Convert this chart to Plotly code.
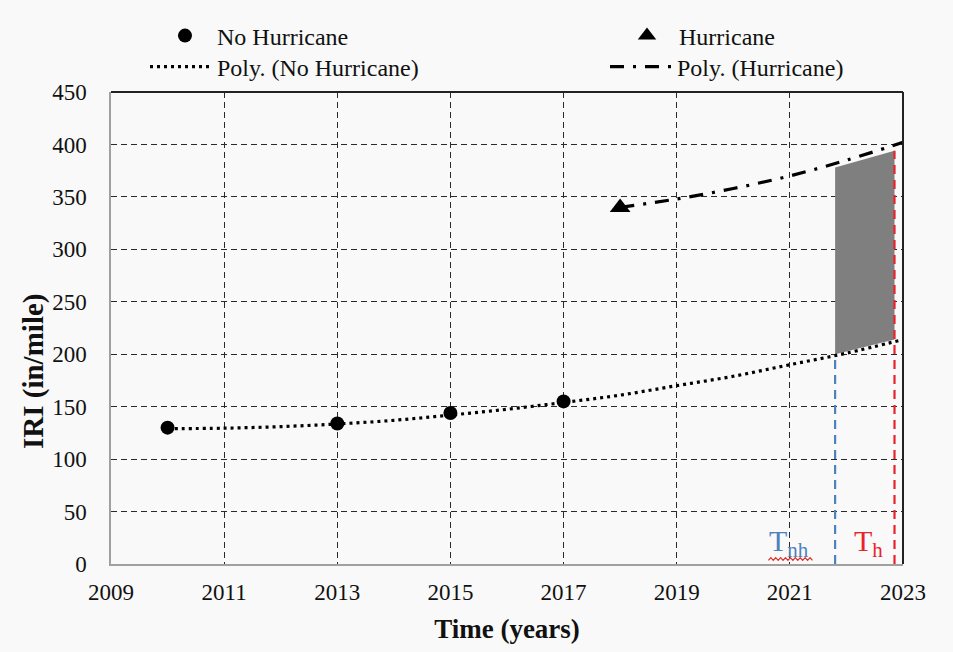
import plotly.graph_objects as go

# Observed IRI values
years_nh = [2010, 2013, 2015, 2017]
iri_nh = [130, 134, 144, 155]
years_h = [2018]
iri_h = [340]

# Polynomial trend curves
trend_nh_years = [2010, 2011, 2012, 2013, 2014, 2015, 2016, 2017, 2018, 2019, 2020, 2021, 2022, 2023]
trend_nh_vals = [129, 129.5, 131, 133.5, 137, 142, 147.5, 154, 161, 170, 179, 190, 201, 214]
trend_h_years = [2018, 2019, 2020, 2021, 2022, 2023]
trend_h_vals = [340, 348, 358, 370, 385, 402]

# Service-life thresholds and the shaded gap between them
t_nh = 2021.8
t_h = 2022.85
t_nh_iri = 200
t_h_iri = 394
gap_x = [2021.8, 2022.85, 2022.85, 2021.8, 2021.8]
gap_y = [378, 394, 214, 200, 378]

x_ticks = [2009, 2011, 2013, 2015, 2017, 2019, 2021, 2023]
y_ticks = [0, 50, 100, 150, 200, 250, 300, 350, 400, 450]

SERIF = "Liberation Serif, Times New Roman, serif"
BG = "#f9f9f9"
BLUE = "#4f81bd"
RED = "#e8232b"
INK = "#111111"


def px_x(p):
    return (p - 111) / 792


def px_y(p):
    return (564 - p) / 472


fig = go.Figure()

fig.add_trace(go.Scatter(
    x=gap_x, y=gap_y, mode="lines", fill="toself", fillcolor="#7f7f7f",
    line=dict(width=0), hoverinfo="skip", showlegend=False))

fig.add_trace(go.Scatter(
    x=[t_nh, t_nh], y=[0, t_nh_iri], mode="lines",
    line=dict(color=BLUE, width=2.2, dash="9px,6px"),
    showlegend=False, hoverinfo="skip"))
fig.add_trace(go.Scatter(
    x=[t_h, t_h], y=[0, t_h_iri], mode="lines",
    line=dict(color=RED, width=2.2, dash="9px,6px"),
    showlegend=False, hoverinfo="skip"))

fig.add_trace(go.Scatter(
    x=trend_nh_years, y=trend_nh_vals, mode="lines", line_shape="spline",
    name="Poly. (No Hurricane)", legend="legend3",
    line=dict(color="black", width=3.2, dash="3px,4px")))
fig.add_trace(go.Scatter(
    x=trend_h_years, y=trend_h_vals, mode="lines", line_shape="spline",
    name="Poly. (Hurricane)", legend="legend4",
    line=dict(color="black", width=3.2, dash="14px,9px,3px,9px")))

fig.add_trace(go.Scatter(
    x=years_nh, y=iri_nh, mode="markers", name="No Hurricane", legend="legend",
    marker=dict(symbol="circle", size=14, color="black")))
fig.add_trace(go.Scatter(
    x=years_h, y=iri_h, mode="markers", name="Hurricane", legend="legend2",
    marker=dict(symbol="triangle-up", size=18, color="black")))

grid = dict(showgrid=True, gridcolor="#2a2a2a", gridwidth=1.3, griddash="6px,4px")

fig.update_xaxes(
    range=[2009, 2023], tickvals=x_ticks, ticktext=[str(v) for v in x_ticks],
    showline=True, linecolor="#a0a0a0", linewidth=1.5, ticks="",
    ticklabelstandoff=7,
    tickfont=dict(family=SERIF, size=23, color=INK),
    title=dict(text="<b>Time (years)</b>", font=dict(family=SERIF, size=27, color=INK), standoff=15),
    zeroline=False, **grid)
fig.update_yaxes(
    range=[0, 450], tickvals=y_ticks,
    showline=True, linecolor="#a0a0a0", linewidth=1.5, ticks="",
    ticklabelstandoff=18,
    tickfont=dict(family=SERIF, size=23, color=INK),
    zeroline=False, **grid)

# y-axis title, placed beside the lower half of the tick labels
fig.add_annotation(xref="paper", yref="paper", x=px_x(33), y=px_y(372),
                   text="<b>IRI (in/mile)</b>", textangle=-90, showarrow=False,
                   xanchor="center", yanchor="middle",
                   font=dict(family=SERIF, size=29, color=INK))

# top and right frame lines
fig.add_shape(type="line", xref="paper", yref="paper", x0=0, x1=1, y0=1, y1=1,
              line=dict(color="#222222", width=2))
fig.add_shape(type="line", xref="paper", yref="paper", x0=1, x1=1, y0=0, y1=1,
              line=dict(color="#222222", width=2))

fig.add_annotation(x=2020.6, y=0, yref="y", text="T<sub>nh</sub>", showarrow=False,
                   xanchor="left", yanchor="bottom", yshift=0,
                   font=dict(family=SERIF, size=30, color=BLUE))
fig.add_annotation(x=2022.1, y=0, yref="y", text="T<sub>h</sub>", showarrow=False,
                   xanchor="left", yanchor="bottom", yshift=0,
                   font=dict(family=SERIF, size=30, color=RED))

# wavy spell-check underline beneath the "nh" subscript
wx0, wx1, wy, amp, n = 2020.62, 2021.4, 4.8, 1.3, 18
pts = []
for i in range(n + 1):
    px = wx0 + (wx1 - wx0) * i / n
    py = wy + (amp if i % 2 else -amp)
    pts.append(f"{px:.4f},{py:.3f}")
fig.add_shape(type="path", xref="x", yref="y", path="M" + " L".join(pts),
              line=dict(color="#e0302a", width=1.2))

legend_font = dict(family=SERIF, size=24, color=INK)
common = dict(orientation="h", xanchor="left", yanchor="middle", valign="middle",
              font=legend_font, bgcolor="rgba(0,0,0,0)")

fig.update_layout(
    width=953, height=652,
    margin=dict(l=111, r=50, t=92, b=88, autoexpand=False),
    paper_bgcolor=BG, plot_bgcolor=BG,
    legend=dict(x=px_x(153), y=px_y(36), itemwidth=54, **common),
    legend2=dict(x=px_x(615), y=px_y(36), itemwidth=54, **common),
    legend3=dict(x=px_x(145), y=px_y(67), itemwidth=62, **common),
    legend4=dict(x=px_x(605), y=px_y(67), itemwidth=62, **common),
)

fig.write_html("out.html")
